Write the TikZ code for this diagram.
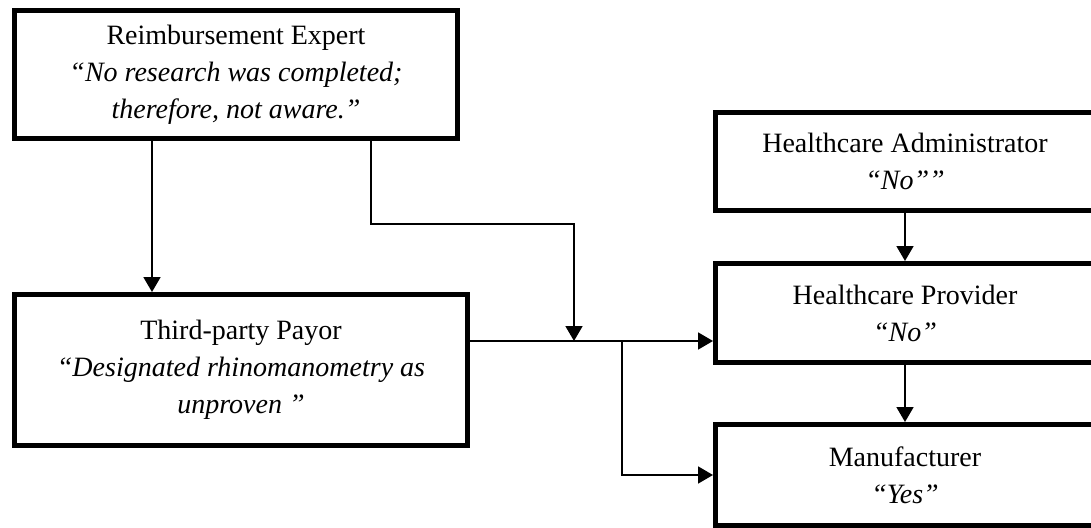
\documentclass[tikz,border=0pt]{standalone}
\usepackage{fontspec}
\setmainfont{Liberation Serif}
\usetikzlibrary{arrows.meta}
\begin{document}
\begin{tikzpicture}[x=1pt,y=-1pt,
  box/.style={draw, line width=5pt, align=center, inner sep=0pt,
    font=\fontsize{28}{37}\selectfont},
  arr/.style={line width=1.8pt, -{Triangle[length=15pt,width=17pt]}}]
\useasboundingbox (0,0) rectangle (1091,527);
\clip (0,0) rectangle (1091,527);

% stakeholder boxes
\node[box, minimum width=443pt, minimum height=128pt] (re) at (236,74.5)
  {Reimbursement Expert\\\textit{“No research was completed;}\\\textit{therefore, not aware.”}};
\node[box, minimum width=453pt, minimum height=151pt] (tpp) at (241,370)
  {Third-party Payor\\\textit{“Designated rhinomanometry as}\\\textit{unproven ”}};
\node[box, minimum width=379pt, minimum height=98pt] (ha) at (905,161.5)
  {Healthcare Administrator\\\textit{“No””}};
\node[box, minimum width=379pt, minimum height=99pt] (hp) at (905,313)
  {Healthcare Provider\\\textit{“No”}};
\node[box, minimum width=379pt, minimum height=101pt] (man) at (905,475)
  {Manufacturer\\\textit{“Yes”}};

% routing points
\coordinate (left) at (152,0);
\coordinate (turn) at (371,224);
\coordinate (join) at (574,341);
\coordinate (branch) at (622,341);
\coordinate (down) at (622,475);

% connectors
\draw[arr] (re.south -| left) -- (tpp.north -| left);
\draw[arr] (re.south -| turn) -- (turn) -- (turn -| join) -- (join);
\draw[arr] (tpp.east |- join) -- (hp.west |- join);
\draw[arr] (branch) -- (down) -- (man.west |- down);
\draw[arr] (ha.south) -- (hp.north);
\draw[arr] (hp.south) -- (man.north);
\end{tikzpicture}
\end{document}
